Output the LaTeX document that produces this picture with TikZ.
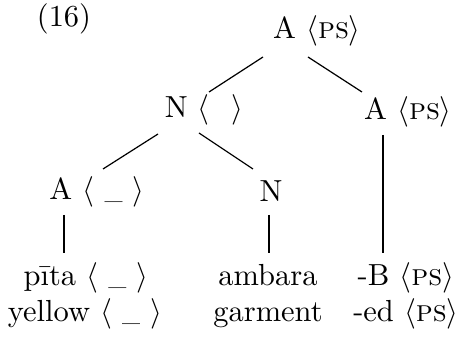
\documentclass[tikz,border=0pt]{standalone}
\newcommand{\gapmark}{{\scriptsize\textunderscore}}
\newcommand{\featps}{$\langle$\textsc{ps}$\rangle$}
\newcommand{\featgap}{$\langle$\ \gapmark\ $\rangle$}
\begin{document}
\begin{tikzpicture}[x=0.328pt,y=-0.328pt,
  lbl/.style={inner sep=0pt, anchor=base},
  branch/.style={line width=0.4pt}]
\useasboundingbox (0,0) rectangle (460,338);
\node[lbl] (num) at (64,27) {(16)};
\node[lbl] (root) at (317,39) {A \featps};
\node[lbl] (nbar) at (204,118) {N $\langle$\hspace{7pt}$\rangle$};
\node[lbl] (aright) at (408,120) {A \featps};
\node[lbl] (aleft) at (97,200) {A \featgap};
\node[lbl] (nmid) at (271,202) {N};
\node[lbl] (pita) at (86,286) {p\={\i}ta \featgap};
\node[lbl] (yellow) at (85,322) {yellow \featgap};
\node[lbl] (ambara) at (268,286) {ambara};
\node[lbl] (garment) at (268,322) {garment};
\node[lbl] (bsuf) at (406,286) {-B \featps};
\node[lbl] (edsuf) at (406,322) {-ed \featps};
\draw[branch] ([shift={(-54,18)}]root.base) -- ([shift={(5,-26)}]nbar.base);
\draw[branch] ([shift={(-9,18)}]root.base) -- ([shift={(-46,-28)}]aright.base);
\draw[branch] ([shift={(-46,16)}]nbar.base) -- ([shift={(6,-31)}]aleft.base);
\draw[branch] ([shift={(-5,15)}]nbar.base) -- ([shift={(-18,-33)}]nmid.base);
\draw[branch] ([shift={(-33,15)}]aleft.base) -- ([shift={(-22,-33)}]pita.base);
\draw[branch] ([shift={(-2,13)}]nmid.base) -- ([shift={(1,-33)}]ambara.base);
\draw[branch] ([shift={(-25,15)}]aright.base) -- ([shift={(-23,-33)}]bsuf.base);
\end{tikzpicture}
\end{document}
